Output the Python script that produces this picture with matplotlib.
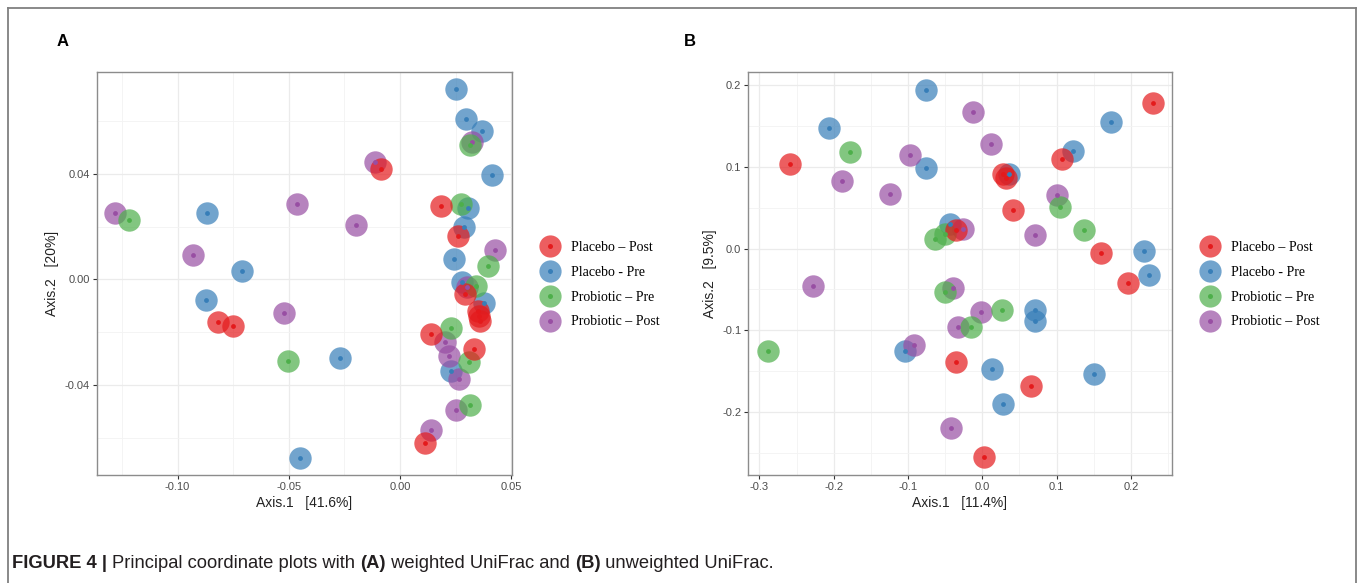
import numpy as np
import matplotlib
matplotlib.use("Agg")
import matplotlib.pyplot as plt
from matplotlib.lines import Line2D
from matplotlib import font_manager

# ---- data ----
groups = ["Placebo \u2013 Post", "Placebo - Pre", "Probiotic \u2013 Pre", "Probiotic \u2013 Post"]
colors = ["#E41A1C", "#377EB8", "#4DAF4A", "#984EA3"]

# panel A: weighted UniFrac
a_placebo_post = [(-0.082, -0.0161), (-0.0751, -0.0178), (-0.0085, 0.0417), (0.0186, 0.0279),
                  (0.0262, 0.0165), (0.0292, -0.0056), (0.0352, -0.0119), (0.0355, -0.0140),
                  (0.0357, -0.0157), (0.0138, -0.0207), (0.0334, -0.0263), (0.0111, -0.0622)]
a_placebo_pre = [(-0.0868, 0.025), (-0.071, 0.0031), (-0.0873, -0.0079), (-0.0449, -0.0677),
                 (-0.027, -0.0297), (0.025, 0.072), (0.0295, 0.0609), (0.0367, 0.0564),
                 (0.0412, 0.0394), (0.0307, 0.0272), (0.0288, 0.0200), (0.0241, 0.0076),
                 (0.0277, -0.0011), (0.0379, -0.0091), (0.0229, -0.0348)]
a_probiotic_pre = [(-0.122, 0.0226), (-0.0503, -0.031), (0.0314, 0.0509), (0.0273, 0.0286),
                   (0.0394, 0.0050), (0.034, -0.0024), (0.0228, -0.0183), (0.031, -0.0312),
                   (0.0313, -0.0477)]
a_probiotic_post = [(-0.128, 0.0251), (-0.0932, 0.0092), (-0.0464, 0.0287), (-0.052, -0.0128),
                    (-0.0111, 0.0446), (0.0322, 0.0522), (-0.0196, 0.0207), (0.0425, 0.011),
                    (0.030, -0.0028), (0.0202, -0.0237), (0.0222, -0.0291), (0.0264, -0.0379),
                    (0.0253, -0.0497), (0.0138, -0.0571)]

# panel B: unweighted UniFrac
b_placebo_post = [(-0.2584, 0.1039), (-0.0354, 0.0229), (-0.0354, -0.1389), (0.0283, 0.0909),
                  (0.0319, 0.086), (0.0417, 0.0473), (0.1069, 0.1093), (0.2302, 0.1785),
                  (0.1593, -0.0053), (0.1965, -0.0423), (0.066, -0.1683), (0.0027, -0.2555)]
b_placebo_pre = [(-0.0758, 0.1944), (-0.2063, 0.148), (-0.0762, 0.099), (-0.0435, 0.0298),
                 (-0.1044, -0.1251), (0.0363, 0.0909), (0.1225, 0.1194), (0.1728, 0.1549),
                 (0.218, -0.0028), (0.2239, -0.0326), (0.0713, -0.0749), (0.0713, -0.0892),
                 (0.013, -0.147), (0.1503, -0.1536), (0.0279, -0.1903)]
b_probiotic_pre = [(-0.1776, 0.1178), (-0.0637, 0.0115), (-0.0502, 0.0176), (-0.0506, -0.0526),
                   (-0.2884, -0.1259), (0.105, 0.0506), (0.1373, 0.0229), (0.0265, -0.0749),
                   (-0.0156, -0.0954)]
b_probiotic_post = [(-0.0973, 0.1145), (-0.1892, 0.0828), (-0.1246, 0.0669), (-0.026, 0.024),
                    (-0.2283, -0.0456), (-0.039, -0.0477), (-0.0323, -0.0954), (-0.0919, -0.1177),
                    (-0.0417, -0.2196), (-0.012, 0.1671), (0.0117, 0.1284), (0.1005, 0.0653),
                    (0.0709, 0.0167), (-0.0018, -0.0774)]

panel_a = [a_placebo_post, a_placebo_pre, a_probiotic_pre, a_probiotic_post]
panel_b = [b_placebo_post, b_placebo_pre, b_probiotic_pre, b_probiotic_post]

W, H = 1358, 583
fig = plt.figure(figsize=(W / 100, H / 100), dpi=100)

sans = "Liberation Sans"
serif = "Liberation Serif"
names = {f.name for f in font_manager.fontManager.ttflist}
narrow = "Liberation Sans Narrow" if "Liberation Sans Narrow" in names else sans


def pcoa_panel(rect, data, xlim, ylim, xmaj, xmin, ymaj, ymin, xlab, ylab, xfmt, yfmt):
    ax = fig.add_axes(rect)
    # draw order: blue, purple, green, red
    for i in [1, 3, 2, 0]:
        pts = np.array(data[i])
        ax.scatter(pts[:, 0], pts[:, 1], s=260, color=colors[i], alpha=0.7, lw=0, zorder=3)
        ax.scatter(pts[:, 0], pts[:, 1], s=12, color=colors[i], lw=0, zorder=4)
    ax.set_xlim(xlim)
    ax.set_ylim(ylim)
    ax.set_xticks(xmaj)
    ax.set_xticks(xmin, minor=True)
    ax.set_yticks(ymaj)
    ax.set_yticks(ymin, minor=True)
    ax.set_xticklabels([xfmt.format(v) for v in xmaj])
    ax.set_yticklabels([yfmt.format(v) for v in ymaj])
    ax.grid(which="major", color="#ebebeb", lw=0.9, zorder=0)
    ax.grid(which="minor", color="#f3f3f3", lw=0.6, zorder=0)
    ax.tick_params(which="major", length=3, width=0.8, color="#333333",
                   labelsize=8, labelcolor="#4d4d4d", pad=2)
    ax.tick_params(which="minor", length=0)
    for t in ax.get_xticklabels() + ax.get_yticklabels():
        t.set_fontfamily(sans)
    for sp in ax.spines.values():
        sp.set_color("#8c8c8c")
        sp.set_linewidth(1.0)
    ax.set_xlabel(xlab, fontsize=10, family=sans, color="#222222", labelpad=3)
    ax.set_ylabel(ylab, fontsize=10, family=sans, color="#222222", labelpad=4)
    return ax


pcoa_panel([97 / W, 1 - 475 / H, 415 / W, 403 / H], panel_a,
           (-0.1362, 0.0503), (-0.0742, 0.0786),
           [-0.10, -0.05, 0.0, 0.05], [-0.125, -0.075, -0.025, 0.025],
           [-0.04, 0.0, 0.04], [-0.06, -0.02, 0.02, 0.06],
           "Axis.1   [41.6%]", "Axis.2   [20%]", "{:.2f}", "{:.2f}")

pcoa_panel([748.3 / W, 1 - 475 / H, 423.4 / W, 403 / H], panel_b,
           (-0.315, 0.255), (-0.277, 0.216),
           [-0.3, -0.2, -0.1, 0.0, 0.1, 0.2], [-0.25, -0.15, -0.05, 0.05, 0.15, 0.25],
           [-0.2, -0.1, 0.0, 0.1, 0.2], [-0.25, -0.15, -0.05, 0.05, 0.15],
           "Axis.1   [11.4%]", "Axis.2   [9.5%]", "{:.1f}", "{:.1f}")

# legends
handles = [(Line2D([], [], ls="", marker="o", ms=16, color=c, alpha=0.7, mew=0),
            Line2D([], [], ls="", marker="o", ms=3.6, color=c, mew=0)) for c in colors]
for lx in [539, 1199]:
    fig.legend(handles, groups, loc="center left", bbox_to_anchor=(lx / W, 1 - 284.7 / H),
               frameon=False, prop={"family": serif, "size": 10}, handlelength=1.6,
               handletextpad=0.7, labelspacing=0.85, borderpad=0, borderaxespad=0)

# panel letters
fig.text(63 / W, 1 - 42 / H, "A", fontsize=12, fontweight="bold", family=sans, va="center", ha="center")
fig.text(690 / W, 1 - 42 / H, "B", fontsize=12, fontweight="bold", family=sans, va="center", ha="center")

# frame (open at the bottom)
frame = dict(color="#808080", lw=1.3, transform=fig.transFigure)
fig.add_artist(Line2D([8 / W, 8 / W], [0, 1 - 8 / H], **frame))
fig.add_artist(Line2D([8 / W, 1356 / W], [1 - 8 / H, 1 - 8 / H], **frame))
fig.add_artist(Line2D([1356 / W, 1356 / W], [0, 1 - 8 / H], **frame))

# caption with mixed weights, fitted to the reference width
pieces = [("FIGURE 4 | ", "bold"), ("Principal coordinate plots with ", "normal"),
          ("(A)", "bold"), (" weighted UniFrac and ", "normal"), ("(B)", "bold"),
          (" unweighted UniFrac.", "normal")]
renderer = fig.canvas.get_renderer()


def place_caption(size):
    x = 12
    arts = []
    for txt, wt in pieces:
        t = fig.text(x / W, 1 - 563 / H, txt, fontsize=size, fontweight=wt, family=narrow,
                     color="#231f20", va="center", ha="left")
        x += t.get_window_extent(renderer).width
        arts.append(t)
    return arts, x - 12


arts, width = place_caption(11)
for a in arts:
    a.remove()
place_caption(11 * 760 / width)

fig.savefig("out.png", dpi=100)
